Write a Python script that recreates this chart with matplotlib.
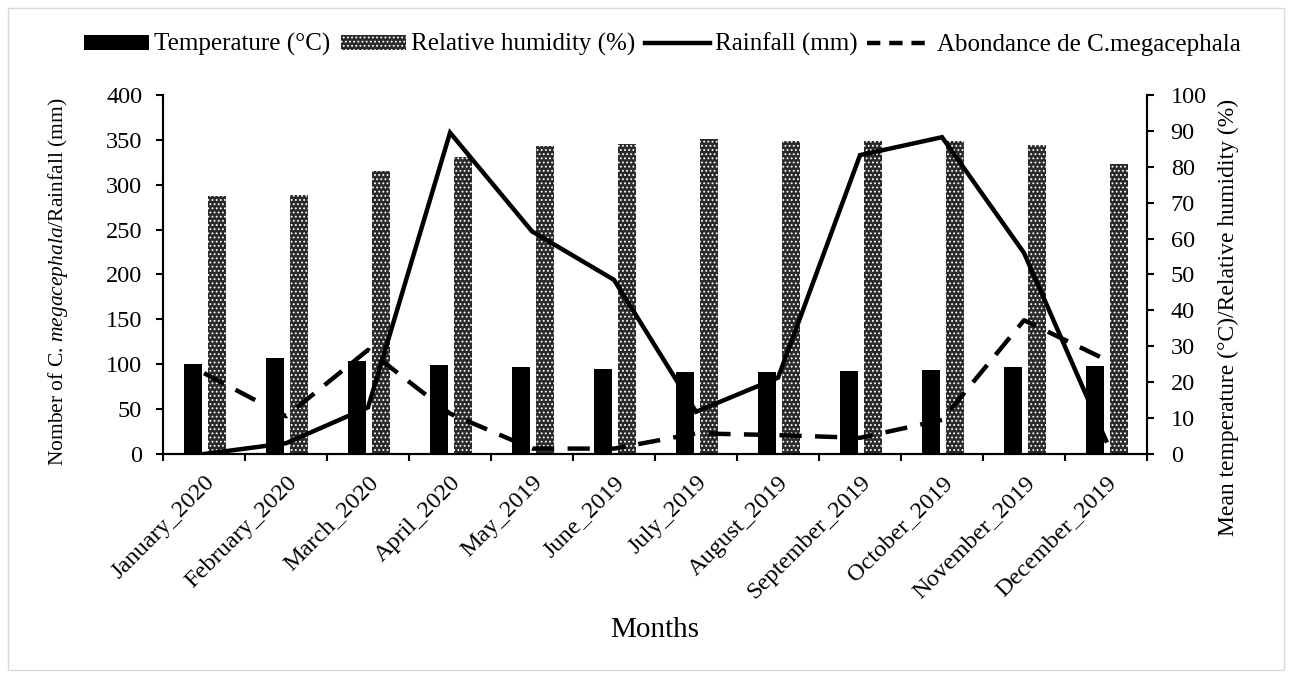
import numpy as np
import matplotlib.pyplot as plt
from matplotlib.patches import Patch, Rectangle
from matplotlib.lines import Line2D

plt.rcParams['font.family'] = ['Liberation Serif', 'DejaVu Serif']
plt.rcParams['mathtext.fontset'] = 'custom'
plt.rcParams['mathtext.it'] = 'Liberation Serif:italic'
plt.rcParams['mathtext.rm'] = 'Liberation Serif'
plt.rcParams['hatch.linewidth'] = 0.8

months = ['January_2020', 'February_2020', 'March_2020', 'April_2020', 'May_2019',
          'June_2019', 'July_2019', 'August_2019', 'September_2019', 'October_2019',
          'November_2019', 'December_2019']
temperature = [25.1, 26.6, 26.0, 24.7, 24.3, 23.6, 22.7, 22.7, 23.1, 23.3, 24.1, 24.6]
humidity = [71.9, 72.2, 78.9, 82.6, 85.7, 86.4, 87.7, 87.1, 87.2, 87.2, 86.1, 80.8]
rainfall = [0, 12, 52, 358, 248, 194, 47, 85, 333, 353, 224, 15]
abundance = [90, 42, 116, 45, 6, 6, 23, 21, 18, 38, 149, 105]

x = np.arange(len(months))

fig = plt.figure(figsize=(12.92, 6.78), dpi=100)
ax = fig.add_axes([0.1262, 0.3304, 0.7616, 0.5295])
ax2 = ax.twinx()

# bars on the right axis
ax2.bar(x - 0.135, temperature, width=0.21, color='black')
ax2.bar(x + 0.155, humidity, width=0.22, color='#2a2a2a', edgecolor='white',
        hatch='....', linewidth=0)
ax2.set_ylim(0, 100)
ax2.set_yticks(np.arange(0, 101, 10))

# lines on the left axis, drawn above the bars
ax.set_zorder(ax2.get_zorder() + 1)
ax.patch.set_visible(False)
ax.plot(x, rainfall, color='black', lw=3.2, solid_joinstyle='miter')
ax.plot(x, abundance, color='black', lw=3.2, dashes=(5, 3))
ax.set_ylim(0, 400)
ax.set_yticks(np.arange(0, 401, 50))
ax.set_xlim(-0.5, 11.5)

ax.set_xticks(x)
ax.set_xticklabels(months, rotation=45, ha='right', rotation_mode='anchor')
ax.set_xticks(np.arange(-0.5, 12, 1), minor=True)
ax.tick_params(axis='x', which='major', length=0, pad=13, labelsize=17.5)
ax.tick_params(axis='x', which='minor', length=5, width=1.5, direction='out')
ax.tick_params(axis='y', labelsize=17.5, length=5, width=1.5, direction='out', pad=10)
ax2.tick_params(axis='y', labelsize=17.5, length=5, width=1.5, direction='out', pad=12)

for a in (ax, ax2):
    a.spines['top'].set_visible(False)
    for s in ('left', 'right', 'bottom'):
        a.spines[s].set_linewidth(1.5)

ax.set_ylabel(r'Nomber of C. $\mathit{megacephala}$/Rainfall (mm)', fontsize=15.5)
ax.yaxis.set_label_coords(-0.095, 0.479)
ax2.set_ylabel('Mean temperature (°C)/Relative humidity (%)', fontsize=17)
ax2.yaxis.set_label_coords(1.072, 0.379)
ax.set_xlabel('Months', fontsize=21)
ax.xaxis.set_label_coords(0.5, -0.455)

handles = [Patch(facecolor='black'),
           Patch(facecolor='#2a2a2a', edgecolor='white', hatch='....', linewidth=0),
           Line2D([], [], color='black', lw=3.2),
           Line2D([], [], color='black', lw=3.2, dashes=(3, 2))]
labels = ['Temperature (°C)', 'Relative humidity (%)', 'Rainfall (mm)',
          'Abondance de C.megacephala']
fig.legend(handles, labels, loc='center', bbox_to_anchor=(0.513, 0.934), ncol=4,
           frameon=False, fontsize=18, handlelength=2.6, handleheight=0.55,
           handletextpad=0.2, columnspacing=0.4)

fig.patches.append(Rectangle((0.006, 0.012), 0.988, 0.976, transform=fig.transFigure,
                             fill=False, edgecolor='#d9d9d9', lw=1))

fig.savefig('out.png', dpi=100)
